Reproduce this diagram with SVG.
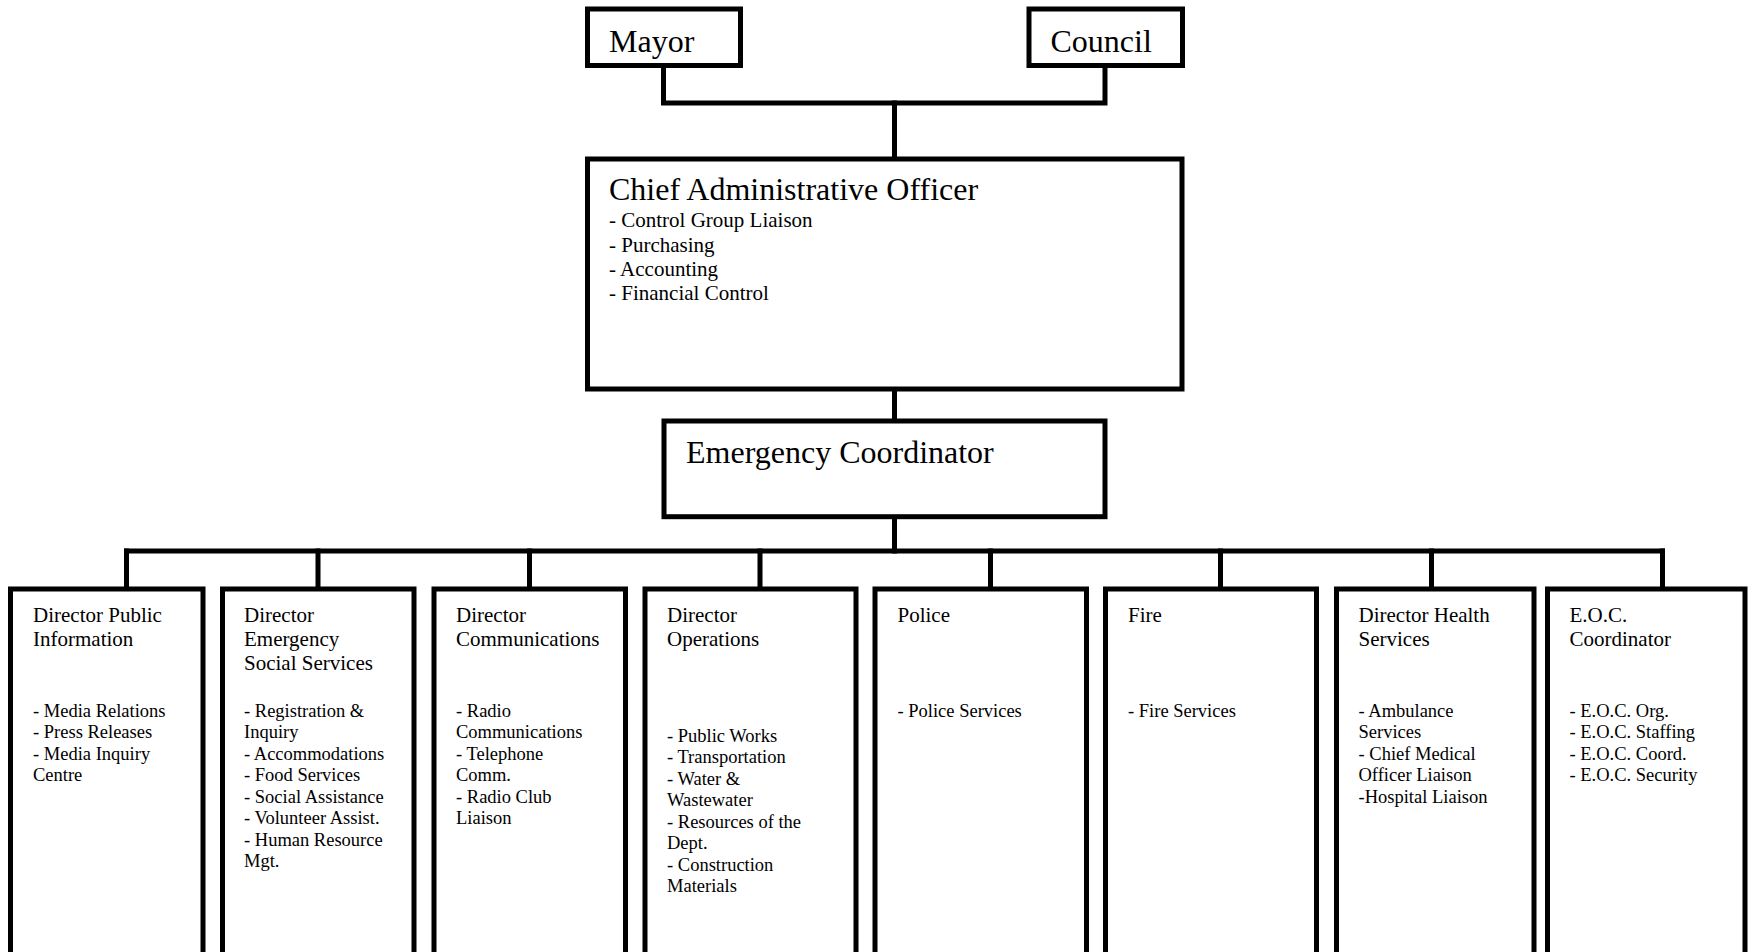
<svg xmlns="http://www.w3.org/2000/svg" width="1748" height="952" viewBox="0 0 1748 952">
<style>
.box{fill:#fff;stroke:#000;stroke-width:5}
.ln{fill:none;stroke:#000;stroke-width:5;stroke-linecap:square}
.big{font-family:"Liberation Serif","Times New Roman",serif;font-size:32px;fill:#000}
.mid{font-family:"Liberation Serif","Times New Roman",serif;font-size:21px;fill:#000}
.sm{font-family:"Liberation Serif","Times New Roman",serif;font-size:18.5px;fill:#000}
</style>
<rect width="1748" height="952" fill="#fff"/>
<g id="connectors">
<path class="ln" d="M663.5 68 V103 H1105 V68"/>
<path class="ln" d="M894.5 103 V159"/>
<path class="ln" d="M894.5 389 V421"/>
<path class="ln" d="M894.5 517 V551"/>
<path class="ln" d="M126.5 551 H1662.5"/>
<path class="ln" d="M126.5 551 V589 M318 551 V589 M529.5 551 V589 M760 551 V589 M990.5 551 V589 M1220.5 551 V589 M1431.5 551 V589 M1662.5 551 V589"/>
</g>
<g id="mayor">
<rect class="box" x="587.5" y="9" width="153" height="56.5"/>
<text class="big" x="609" y="51.5">Mayor</text>
</g>
<g id="council">
<rect class="box" x="1029" y="9" width="153.5" height="56.5"/>
<text class="big" x="1050.5" y="51.5">Council</text>
</g>
<g id="cao">
<rect class="box" x="587.5" y="159" width="594.5" height="230"/>
<text class="big" x="609" y="200">Chief Administrative Officer</text>
<text class="mid"><tspan x="609" y="227.3">- Control Group Liaison</tspan><tspan x="609" y="251.5">- Purchasing</tspan><tspan x="609" y="275.7">- Accounting</tspan><tspan x="609" y="299.9">- Financial Control</tspan></text>
</g>
<g id="emergency-coordinator">
<rect class="box" x="664" y="421" width="441" height="95.7"/>
<text class="big" x="686" y="462.7">Emergency Coordinator</text>
</g>
<g id="dir-public-info">
<rect class="box" x="10.5" y="589" width="192.5" height="420"/>
<text class="mid"><tspan x="33" y="621.7">Director Public</tspan><tspan x="33" y="646">Information</tspan></text>
<text class="sm"><tspan x="33" y="716.7">- Media Relations</tspan><tspan x="33" dy="21.5">- Press Releases</tspan><tspan x="33" dy="21.5">- Media Inquiry</tspan><tspan x="33" dy="21.5">Centre</tspan></text>
</g>
<g id="dir-ess">
<rect class="box" x="222.5" y="589" width="191.5" height="420"/>
<text class="mid"><tspan x="244" y="621.7">Director</tspan><tspan x="244" y="646">Emergency</tspan><tspan x="244" y="670.3">Social Services</tspan></text>
<text class="sm"><tspan x="244" y="716.7">- Registration &amp;</tspan><tspan x="244" dy="21.5">Inquiry</tspan><tspan x="244" dy="21.5">- Accommodations</tspan><tspan x="244" dy="21.5">- Food Services</tspan><tspan x="244" dy="21.5">- Social Assistance</tspan><tspan x="244" dy="21.5">- Volunteer Assist.</tspan><tspan x="244" dy="21.5">- Human Resource</tspan><tspan x="244" dy="21.5">Mgt.</tspan></text>
</g>
<g id="dir-communications">
<rect class="box" x="434" y="589" width="191.5" height="420"/>
<text class="mid"><tspan x="456" y="621.7">Director</tspan><tspan x="456" y="646">Communications</tspan></text>
<text class="sm"><tspan x="456" y="716.7">- Radio</tspan><tspan x="456" dy="21.5">Communications</tspan><tspan x="456" dy="21.5">- Telephone</tspan><tspan x="456" dy="21.5">Comm.</tspan><tspan x="456" dy="21.5">- Radio Club</tspan><tspan x="456" dy="21.5">Liaison</tspan></text>
</g>
<g id="dir-operations">
<rect class="box" x="645" y="589" width="211" height="420"/>
<text class="mid"><tspan x="667" y="621.7">Director</tspan><tspan x="667" y="646">Operations</tspan></text>
<text class="sm"><tspan x="667" y="741.7">- Public Works</tspan><tspan x="667" dy="21.5">- Transportation</tspan><tspan x="667" dy="21.5">- Water &amp;</tspan><tspan x="667" dy="21.5">Wastewater</tspan><tspan x="667" dy="21.5">- Resources of the</tspan><tspan x="667" dy="21.5">Dept.</tspan><tspan x="667" dy="21.5">- Construction</tspan><tspan x="667" dy="21.5">Materials</tspan></text>
</g>
<g id="police">
<rect class="box" x="875" y="589" width="211.5" height="420"/>
<text class="mid" x="897.5" y="621.7">Police</text>
<text class="sm" x="897.5" y="716.7">- Police Services</text>
</g>
<g id="fire">
<rect class="box" x="1105.5" y="589" width="211" height="420"/>
<text class="mid" x="1128" y="621.7">Fire</text>
<text class="sm" x="1128" y="716.7">- Fire Services</text>
</g>
<g id="dir-health">
<rect class="box" x="1336.5" y="589" width="197.5" height="420"/>
<text class="mid"><tspan x="1358.5" y="621.7">Director Health</tspan><tspan x="1358.5" y="646">Services</tspan></text>
<text class="sm"><tspan x="1358.5" y="716.7">- Ambulance</tspan><tspan x="1358.5" dy="21.5">Services</tspan><tspan x="1358.5" dy="21.5">- Chief Medical</tspan><tspan x="1358.5" dy="21.5">Officer Liaison</tspan><tspan x="1358.5" dy="21.5">-Hospital Liaison</tspan></text>
</g>
<g id="eoc-coordinator">
<rect class="box" x="1547.5" y="589" width="197.5" height="420"/>
<text class="mid"><tspan x="1569.5" y="621.7">E.O.C.</tspan><tspan x="1569.5" y="646">Coordinator</tspan></text>
<text class="sm"><tspan x="1569.5" y="716.7">- E.O.C. Org.</tspan><tspan x="1569.5" dy="21.5">- E.O.C. Staffing</tspan><tspan x="1569.5" dy="21.5">- E.O.C. Coord.</tspan><tspan x="1569.5" dy="21.5">- E.O.C. Security</tspan></text>
</g>
</svg>
